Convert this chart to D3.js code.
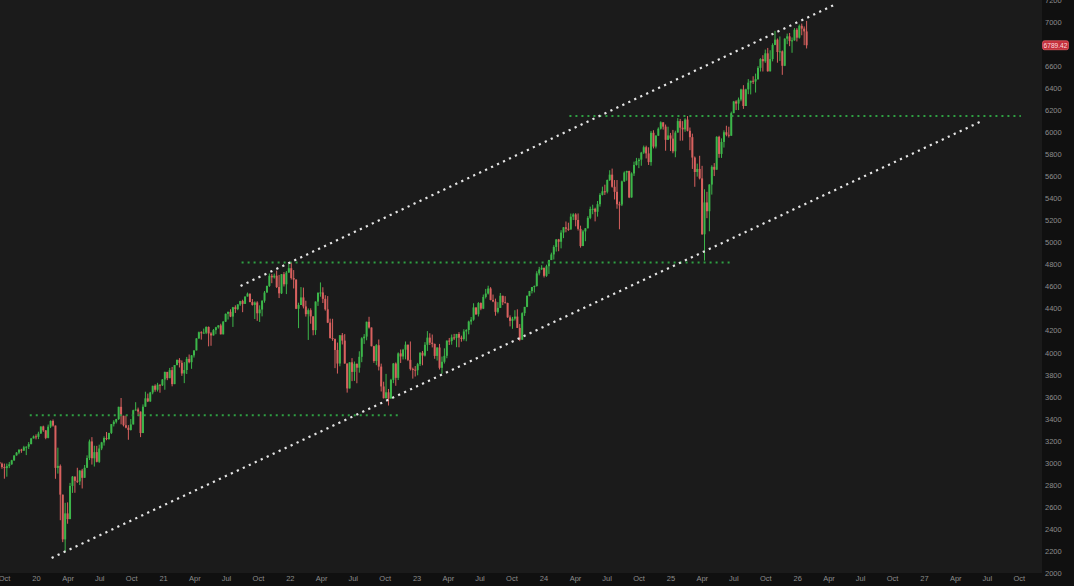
<!DOCTYPE html>
<html><head><meta charset="utf-8">
<script src="https://cdn.jsdelivr.net/npm/d3@7"></script>
<style>html,body{margin:0;padding:0;background:#101010;overflow:hidden}svg{display:block}</style>
</head><body><svg id="c" width="1074" height="586"></svg>
<script>
// ---- data: weekly S&P 500 candles (week ending Friday) ----
const firstWeekEnd = "2019-09-20";
const firstOpen = 3007;
const weekClose = [
 2992,2962,2952,2970,2986,3023,3067,3093,3120,3110,3141,3146,3169,3221,3240,
 3235,3265,3330,3295,3226,3328,3380,3338,2954,2972,2711,2305,2541,2489,2790,2875,2837,2831,2930,2864,2955,3044,3194,3041,3097,3009,3130,3185,3225,3216,3271,3351,3373,3397,3508,3427,3341,3319,3298,3348,3477,3484,3465,3270,3509,3585,3557,3638,3699,3663,3709,3703,
 3756,3825,3768,3841,3714,3887,3934,3907,3811,3842,3943,3913,3975,4020,4129,4185,4180,4181,4233,4174,4156,4204,4230,4247,4166,4281,4352,4370,4327,4412,4395,4437,4468,4442,4509,4535,4459,4433,4455,4357,4391,4471,4545,4605,4697,4683,4698,4595,4538,4712,4620,4726,4766,
 4677,4663,4398,4432,4501,4419,4349,4385,4329,4204,4463,4543,4546,4488,4393,4272,4132,4123,4024,3901,4158,4109,3901,3675,3912,3825,3899,3863,3962,4130,4145,4280,4228,4058,3924,4067,3873,3693,3586,3640,3583,3753,3901,3771,3993,3965,4026,4072,3934,3852,3845,3840,
 3895,3999,3973,4071,4136,4090,4079,3970,4046,3862,3917,3971,4109,4105,4138,4133,4169,4136,4124,4192,4205,4282,4299,4410,4348,4450,4399,4505,4536,4582,4478,4464,4370,4406,4516,4457,4450,4320,4288,4308,4327,4224,4117,4358,4415,4514,4559,4595,4604,4719,4755,4770,
 4697,4784,4840,4891,4959,5027,5006,5089,5137,5124,5117,5234,5254,5204,5123,4967,5100,5128,5223,5303,5305,5278,5347,5431,5464,5460,5567,5615,5505,5459,5346,5344,5554,5634,5648,5408,5626,5703,5738,5751,5815,5864,5808,5729,5995,5870,5969,6032,6090,6051,5931,5971,
 5942,5827,5997,6101,6041,6026,6115,6013,5955,5770,5639,5667,5581,5074,5363,5283,5525,5686,5660,5958,5803,5912,6000,5977,5968,6173,6279,6260,6297,6389,6238,6389,6450,6467,6460,6482,6584,6664,6644,6716,6553,6664,6792,6840,6728,6734,6603,6849,6870,6827,6834,6930,
 6858,6966,6940,6915,6789
];
const weekHigh = [
 3022,3002,2993,2993,3008,3027,3067,3097,3120,3127,3154,3150,3188,3226,3248,
 3258,3282,3330,3337,3285,3347,3385,3393,3337,3137,2985,2711,2637,2641,2818,2880,2869,2955,2932,2945,2980,3068,3211,3233,3155,3154,3165,3190,3240,3280,3272,3352,3387,3399,3509,3588,3425,3428,3342,3397,3482,3550,3501,3464,3530,3645,3628,3644,3699,3712,3726,3711,
 3760,3827,3815,3861,3870,3887,3937,3950,3929,3914,3961,3983,3978,4020,4130,4191,4194,4218,4238,4237,4186,4214,4234,4249,4262,4287,4355,4372,4393,4415,4429,4440,4470,4480,4509,4545,4536,4486,4465,4466,4429,4475,4559,4608,4718,4714,4717,4744,4705,4713,4731,4740,4808,
 4818,4749,4664,4453,4595,4590,4471,4401,4402,4327,4465,4546,4637,4593,4521,4513,4308,4307,4128,4091,4158,4178,4168,3837,3913,3950,3919,3889,4012,4140,4168,4281,4325,4203,4062,4077,4119,3900,3736,3807,3670,3762,3906,3911,4002,4028,4034,4101,4052,4101,3864,3878,
 3907,4003,4015,4095,4195,4176,4164,4082,4049,4079,3964,4039,4110,4133,4164,4170,4170,4186,4154,4212,4213,4290,4323,4448,4408,4458,4456,4527,4578,4607,4594,4527,4490,4458,4541,4515,4512,4453,4338,4324,4385,4393,4259,4366,4415,4521,4560,4595,4609,4739,4778,4793,
 4754,4798,4842,4907,4975,5030,5032,5111,5140,5190,5179,5262,5265,5265,5263,5152,5114,5131,5239,5325,5342,5315,5376,5447,5506,5524,5570,5655,5670,5566,5566,5370,5561,5644,5651,5651,5636,5733,5767,5765,5822,5879,5878,5863,6012,6018,5973,6044,6099,6085,6070,6050,
 5994,6021,6014,6128,6121,6101,6127,6147,6043,5987,5780,5715,5786,5695,5482,5459,5528,5700,5720,5964,5968,5944,6017,6059,6050,6187,6284,6290,6315,6395,6427,6395,6482,6467,6508,6532,6600,6672,6699,6750,6765,6744,6807,6920,6851,6869,6742,6853,6895,6901,6860,6945,
 6945,6978,6986,6960,7010
];
const weekLow = [
 2990,2946,2856,2874,2952,2982,3016,3065,3078,3091,3115,3070,3125,3170,3223,
 3213,3215,3264,3281,3214,3222,3315,3328,2855,2902,2479,2280,2192,2447,2505,2727,2728,2817,2798,2767,2869,2969,3025,2984,2966,3004,2999,3115,3156,3205,3209,3261,3330,3357,3388,3349,3330,3313,3209,3293,3354,3473,3424,3233,3279,3511,3551,3553,3622,3645,3647,3636,
 3697,3663,3750,3780,3694,3725,3885,3865,3789,3723,3806,3903,3853,3955,4034,4125,4118,4174,4168,4057,4062,4155,4167,4218,4165,4165,4278,4300,4322,4233,4360,4385,4424,4367,4448,4513,4457,4427,4305,4288,4278,4329,4453,4546,4596,4630,4672,4586,4495,4532,4600,4531,4733,
 4663,4582,4395,4222,4435,4401,4327,4115,4262,4157,4161,4424,4507,4450,4381,4268,4128,4107,3859,3810,3876,4074,3900,3637,3705,3741,3743,3722,3818,3913,4079,4112,4218,4057,3907,3886,3838,3647,3584,3584,3520,3588,3723,3699,3751,3906,3938,3939,3923,3838,3764,3783,
 3794,3878,3885,3965,4015,4069,4047,3944,3928,3847,3809,3901,3949,4069,4072,4114,4049,4048,4099,4109,4103,4166,4254,4289,4341,4328,4385,4395,4491,4527,4474,4458,4335,4356,4414,4431,4448,4316,4238,4216,4291,4223,4104,4127,4333,4412,4511,4537,4546,4599,4701,4751,
 4682,4688,4714,4842,4845,4917,4920,4946,5039,5092,5105,5118,5203,5146,5108,4953,4968,5011,5128,5211,5256,5191,5234,5325,5426,5431,5445,5557,5497,5390,5306,5119,5330,5548,5560,5402,5406,5603,5698,5674,5696,5803,5762,5703,5696,5853,5853,5966,6024,6024,5832,5932,
 5829,5809,5773,5998,5923,5924,6004,6008,5837,5667,5505,5597,5572,5069,4835,5220,5101,5434,5602,5750,5768,5767,5861,5963,5952,6002,6173,6201,6201,6281,6212,6265,6345,6343,6438,6360,6475,6551,6551,6630,6550,6551,6643,6790,6631,6646,6521,6600,6799,6781,6721,6830,
 6824,6850,6880,6790,6760
];
const lastPriceLabel = "6789.42";
const lastPrice = 6789.42;

// trend channel (white dotted) and level lines (green dotted): [startDate, startPrice, endDate, endPrice]
const channelLines = [
 ["2021-08-12", 4605, "2026-04-23", 7164],
 ["2020-02-15", 2137, "2027-06-17", 6102]
];
const levelLines = [
 ["2019-12-14", 3432, "2022-11-18", 3432],
 ["2021-08-15", 4818, "2025-06-25", 4818],
 ["2024-03-16", 6147, "2027-10-07", 6147]
];

const yTickValues = [2000,2200,2400,2600,2800,3000,3200,3400,3600,3800,4000,4200,4400,4600,4800,5000,5200,5400,5600,5800,6000,6200,6400,6600,6800,7000,7200];
const xTickDates = ["2019-10-01","2020-01-01","2020-04-01","2020-07-01","2020-10-01","2021-01-01","2021-04-01","2021-07-01","2021-10-01","2022-01-01","2022-04-01","2022-07-01","2022-10-01","2023-01-01","2023-04-01","2023-07-01","2023-10-01","2024-01-01","2024-04-01","2024-07-01","2024-10-01","2025-01-01","2025-04-01","2025-07-01","2025-10-01","2026-01-01","2026-04-01","2026-07-01","2026-10-01","2027-01-01","2027-04-01","2027-07-01","2027-10-01"];
const xTickLabels = ["Oct","20","Apr","Jul","Oct","21","Apr","Jul","Oct","22","Apr","Jul","Oct","23","Apr","Jul","Oct","24","Apr","Jul","Oct","25","Apr","Jul","Oct","26","Apr","Jul","Oct","27","Apr","Jul","Oct"];

// ---- layout ----
const W = 1074, H = 586, plotR = 1042, plotB = 573;
const parse = d3.utcParse("%Y-%m-%d");
const svg = d3.select("#c");

const x = d3.scaleUtc().domain([parse("2020-01-01"), parse("2027-01-01")]).range([36, 924]);
const y = d3.scaleLinear().domain([2000, 7200]).range([plotB, 0]);

svg.append("rect").attr("width", W).attr("height", H).attr("fill", "#101010");
svg.append("rect").attr("width", plotR).attr("height", plotB).attr("fill", "#1b1b1b");

svg.append("defs").append("clipPath").attr("id", "clip")
  .append("rect").attr("width", plotR).attr("height", plotB);

const start = parse(firstWeekEnd);
const candles = weekClose.map((c, i) => {
  const end = d3.utcDay.offset(start, i * 7);
  const o = i === 0 ? firstOpen : weekClose[i - 1];
  return {date: d3.utcDay.offset(end, -2), o, c,
          h: Math.max(weekHigh[i], o, c), l: Math.min(weekLow[i], o, c)};
});

const up = "#3cb64a", down = "#d8615f";
const g = svg.append("g").attr("clip-path", "url(#clip)");
const cg = g.append("g");
cg.selectAll("line.w").data(candles).join("line").attr("class", "w")
  .attr("x1", d => x(d.date)).attr("x2", d => x(d.date))
  .attr("y1", d => y(d.h)).attr("y2", d => y(d.l))
  .attr("stroke", d => d.c >= d.o ? up : down).attr("stroke-width", 1);
cg.selectAll("rect.b").data(candles).join("rect").attr("class", "b")
  .attr("x", d => x(d.date) - 1)
  .attr("width", 2)
  .attr("y", d => y(Math.max(d.o, d.c)))
  .attr("height", d => Math.max(1, Math.abs(y(d.o) - y(d.c))))
  .attr("fill", d => d.c >= d.o ? up : down);

g.selectAll("line.lvl").data(levelLines).join("line").attr("class", "lvl")
  .attr("x1", d => x(parse(d[0]))).attr("y1", d => y(d[1]))
  .attr("x2", d => x(parse(d[2]))).attr("y2", d => y(d[3]))
  .attr("stroke", "#2fa043").attr("stroke-width", 2).attr("stroke-dasharray", "2,4");
g.selectAll("line.ch").data(channelLines).join("line").attr("class", "ch")
  .attr("x1", d => x(parse(d[0]))).attr("y1", d => y(d[1]))
  .attr("x2", d => x(parse(d[2]))).attr("y2", d => y(d[3]))
  .attr("stroke", "#e6e6e6").attr("stroke-width", 2.2).attr("stroke-dasharray", "2.2,4.4");

// axes (price labels hidden under the last-price tag, as in the reference)
const ty = y(lastPrice);
const visibleYTicks = yTickValues.filter(v => Math.abs(y(v) - ty) > 8);
const yAxis = d3.axisRight(y).tickValues(visibleYTicks).tickSize(0).tickPadding(3).tickFormat(d3.format("d"));
const ya = svg.append("g").attr("transform", `translate(${plotR},0)`).call(yAxis);
const xAxis = d3.axisBottom(x).tickValues(xTickDates.map(parse)).tickSize(0).tickPadding(3)
  .tickFormat((d, i) => xTickLabels[i]);
const xa = svg.append("g").attr("transform", `translate(0,${plotB})`).call(xAxis);
[ya, xa].forEach(a => {
  a.select(".domain").remove();
  a.selectAll("text").attr("fill", "#8c8c8c").style("font-family", "Liberation Sans, Arial, sans-serif").style("font-size", "7.5px");
});

// last price tag
svg.append("rect").attr("x", plotR + 0.5).attr("y", ty - 4.5).attr("width", 26).attr("height", 9).attr("rx", 2)
  .attr("fill", "#c3303c").attr("stroke", "#ff6b74").attr("stroke-width", 0.6);
svg.append("text").attr("x", plotR + 13.5).attr("y", ty + 2.3).attr("text-anchor", "middle").text(lastPriceLabel)
  .attr("fill", "#ffd9dc").style("font-family", "Liberation Sans, Arial, sans-serif").style("font-size", "6.6px");
</script></body></html>
